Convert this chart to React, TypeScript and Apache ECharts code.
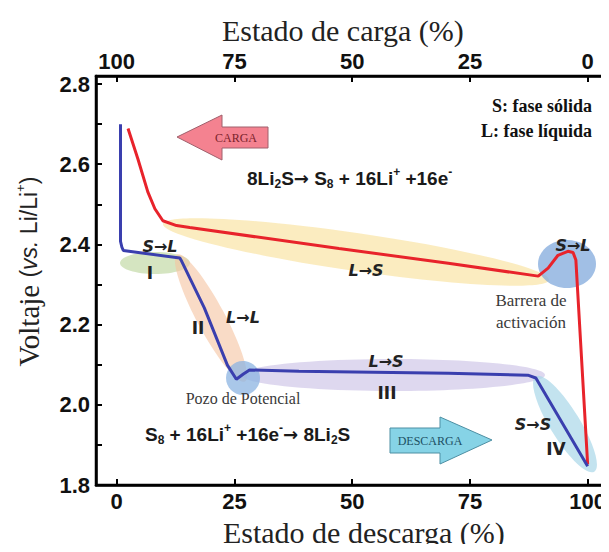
import React, { useEffect, useRef } from "react";
import * as echarts from "echarts";

// Bottom axis: state of discharge (%); top axis: state of charge (%) = 100 - discharge
const dischargeTicks = [0, 25, 50, 75, 100];
const chargeTicks = [0, 25, 50, 75, 100];
const voltageTicks = [1.8, 1.9, 2.0, 2.1, 2.2, 2.3, 2.4, 2.5, 2.6, 2.7, 2.8];
const voltageLabels = [1.8, 2.0, 2.2, 2.4, 2.6, 2.8];

// Discharge curve (blue)
const dischargeX = [0.8, 0.8, 1.1, 1.4, 13.4, 13.8, 18.6, 23.5, 25.4, 26.9, 28.2, 38.7, 70.4, 87.3, 89.0, 100];
const dischargeV = [2.7, 2.408, 2.393, 2.385, 2.366, 2.358, 2.242, 2.099, 2.064, 2.077, 2.087, 2.084, 2.079, 2.074, 2.067, 1.847];

// Charge curve (red)
const chargeX = [2.4, 4.5, 6.6, 8.1, 9.8, 12.7, 15.5, 47.2, 70.4, 89.5, 91.6, 93.7, 95.8, 96.9, 97.5, 100];
const chargeV = [2.689, 2.613, 2.531, 2.489, 2.459, 2.447, 2.442, 2.39, 2.353, 2.321, 2.341, 2.373, 2.383, 2.38, 2.361, 1.852];

const X_MIN = -4.4;
const X_MAX = 103.4;

const serif = "'Liberation Serif', 'Times New Roman', serif";
const sans = "'Liberation Sans', Arial, sans-serif";
const dsans = "'DejaVu Sans', sans-serif";

export default function App() {
  const ref = useRef<HTMLDivElement>(null);
  useEffect(() => {
    if (!ref.current) return;
    const chart = echarts.init(ref.current, null, { renderer: "svg" });

    const zip = (xs: number[], ys: number[]) => xs.map((x, i) => [x, ys[i]]);

    const ellipse = (cx: number, cy: number, rx: number, ry: number, fill: string, rot = 0) => ({
      type: "ellipse",
      x: cx,
      y: cy,
      rotation: rot,
      z: 1,
      silent: true,
      shape: { cx: 0, cy: 0, rx, ry },
      style: { fill },
    });

    const label = (x: number, y: number, text: string, font: any, fill = "#222", align = "center") => ({
      type: "text",
      x,
      y,
      z: 20,
      silent: true,
      style: { text, fill, align, verticalAlign: "middle", ...font },
    });

    const phaseFont = { fontFamily: dsans, fontSize: 16, fontWeight: "bold", fontStyle: "italic" };
    const romanFont = { fontFamily: dsans, fontSize: 17, fontWeight: "bold" };
    const noteFont = { fontFamily: serif, fontSize: 17 };

    const eqRich = {
      n: { fontFamily: sans, fontSize: 19, fontWeight: "bold", lineHeight: 24, fill: "#1a1a1a" },
      b: { fontFamily: sans, fontSize: 12, fontWeight: "bold", lineHeight: 11, verticalAlign: "bottom", fill: "#1a1a1a" },
      t: { fontFamily: sans, fontSize: 12, fontWeight: "bold", lineHeight: 11, verticalAlign: "top", fill: "#1a1a1a" },
      r: { fontFamily: dsans, fontSize: 18, fontWeight: "bold", lineHeight: 24, fill: "#1a1a1a" },
    };

    const graphic: any[] = [
      // shaded regions
      ellipse(356, 252, 195, 19, "rgba(248,224,150,0.6)", -0.145),
      ellipse(155, 263, 35, 11, "rgba(190,215,160,0.65)"),
      ellipse(211, 318, 72, 14, "rgba(245,195,160,0.6)", -1.08),
      ellipse(393, 375, 152, 16, "rgba(205,195,230,0.65)"),
      ellipse(565, 424, 56, 15, "rgba(170,215,232,0.7)", -1.02),
      ellipse(243, 378, 17, 17, "rgba(140,180,225,0.75)"),
      ellipse(567, 264, 29, 24, "rgba(130,170,220,0.75)"),
      // CARGA arrow
      {
        type: "polygon",
        z: 15,
        silent: true,
        shape: {
          points: [
            [177, 137], [222, 115], [222, 127], [268, 127], [268, 148], [222, 148], [222, 160],
          ],
        },
        style: { fill: "#f48290", stroke: "#a0606c", lineWidth: 1 },
      },
      label(236, 138, "CARGA", { fontFamily: serif, fontSize: 12 }, "#7a1f2b"),
      // DESCARGA arrow
      {
        type: "polygon",
        z: 15,
        silent: true,
        shape: {
          points: [
            [390, 428], [440, 428], [440, 417], [492, 440], [440, 464], [440, 453], [390, 453],
          ],
        },
        style: { fill: "#86d3e6", stroke: "#4d8fa3", lineWidth: 1 },
      },
      label(430, 441, "DESCARGA", { fontFamily: serif, fontSize: 12 }, "#1c4f63"),
      // legend notes
      label(592, 106, "S: fase sólida", { fontFamily: serif, fontSize: 18, fontWeight: "bold" }, "#111", "right"),
      label(592, 131, "L: fase líquida", { fontFamily: serif, fontSize: 18, fontWeight: "bold" }, "#111", "right"),
      // equations
      {
        type: "text",
        x: 247,
        y: 178,
        z: 20,
        silent: true,
        style: {
          text: "{n|8Li}{b|2}{n|S}{r|→}{n| S}{b|8}{n| + 16Li}{t|+}{n| +16e}{t|-}",
          rich: eqRich,
          align: "left",
          verticalAlign: "middle",
        },
      },
      {
        type: "text",
        x: 145,
        y: 434,
        z: 20,
        silent: true,
        style: {
          text: "{n|S}{b|8}{n| + 16Li}{t|+}{n| +16e}{t|-}{r|→}{n| 8Li}{b|2}{n|S}",
          rich: eqRich,
          align: "left",
          verticalAlign: "middle",
        },
      },
      // phase labels
      label(160, 246, "S→L", phaseFont),
      label(150, 273, "I", romanFont),
      label(198, 328, "II", romanFont),
      label(243, 317, "L→L", phaseFont),
      label(366, 270, "L→S", phaseFont),
      label(573, 245, "S→L", phaseFont),
      label(531, 300, "Barrera de", noteFont, "#3a3a3a"),
      label(531, 322, "activación", noteFont, "#3a3a3a"),
      label(386, 361, "L→S", phaseFont),
      label(387, 393, "III", romanFont),
      label(243, 398, "Pozo de Potencial", { fontFamily: serif, fontSize: 16 }, "#3a3a3a"),
      label(533, 424, "S→S", phaseFont),
      label(556, 449, "IV", romanFont),
    ];

    const axisLine = { show: true, onZero: false, lineStyle: { color: "#000", width: 2.5 } };
    const tickStyle = { color: "#000", width: 2 };
    const tickLabel = { fontFamily: sans, fontSize: 22, fontWeight: "bold", color: "#111" };

    chart.setOption({
      animation: false,
      backgroundColor: "#fff",
      grid: {
        left: 96,
        right: 3,
        top: 76,
        bottom: 63,
        show: true,
        borderColor: "#000",
        borderWidth: 2.5,
        backgroundColor: "transparent",
      },
      xAxis: [
        {
          type: "value",
          position: "bottom",
          min: X_MIN,
          max: X_MAX,
          splitLine: { show: false },
          axisLine,
          axisTick: { show: true, inside: true, length: 6, lineStyle: tickStyle, customValues: dischargeTicks },
          axisLabel: { ...tickLabel, margin: 5, customValues: dischargeTicks, formatter: (v: number) => String(v) },
          name: "Estado de descarga (%)",
          nameLocation: "middle",
          nameGap: 23,
          nameTextStyle: { fontFamily: serif, fontSize: 30, color: "#222", padding: [0, 0, 0, 28] },
        },
        {
          type: "value",
          position: "top",
          inverse: true,
          min: 100 - X_MAX,
          max: 100 - X_MIN,
          splitLine: { show: false },
          axisLine,
          axisTick: { show: true, inside: true, length: 6, lineStyle: tickStyle, customValues: chargeTicks },
          axisLabel: { ...tickLabel, margin: 4, customValues: chargeTicks, formatter: (v: number) => String(v) },
          name: "Estado de carga (%)",
          nameLocation: "middle",
          nameGap: 29,
          nameTextStyle: { fontFamily: serif, fontSize: 30, color: "#222", padding: [0, 14, 0, 0] },
        },
      ],
      yAxis: {
        type: "value",
        min: 1.8,
        max: 2.82,
        splitLine: { show: false },
        axisLine,
        axisTick: { show: true, inside: true, length: 6, lineStyle: tickStyle, customValues: voltageTicks },
        axisLabel: { ...tickLabel, margin: 6, customValues: voltageLabels, formatter: (v: number) => v.toFixed(1) },
        name: "{s|Voltaje }{a|(}{i|vs.}{a| Li/Li}{p|+}{a|)}",
        nameLocation: "middle",
        nameGap: 52,
        nameTextStyle: {
          color: "#222",
          padding: [0, 0, 0, 18],
          rich: {
            s: { fontFamily: serif, fontSize: 29, color: "#222", lineHeight: 30 },
            a: { fontFamily: sans, fontSize: 23, color: "#222", lineHeight: 30 },
            i: { fontFamily: sans, fontSize: 23, fontStyle: "italic", color: "#222", lineHeight: 30 },
            p: { fontFamily: sans, fontSize: 13, color: "#222", verticalAlign: "top", lineHeight: 13 },
          },
        },
      },
      series: [
        {
          name: "Carga",
          type: "line",
          xAxisIndex: 0,
          data: zip(chargeX, chargeV),
          showSymbol: false,
          symbol: "none",
          z: 5,
          lineStyle: { color: "#e8232b", width: 3 },
        },
        {
          name: "Descarga",
          type: "line",
          xAxisIndex: 0,
          data: zip(dischargeX, dischargeV),
          showSymbol: false,
          symbol: "none",
          z: 6,
          lineStyle: { color: "#3a3fae", width: 3 },
        },
      ],
      graphic,
    });

    return () => chart.dispose();
  }, []);

  return <div ref={ref} style={{ width: 609, height: 552, margin: -8 }} />;
}
